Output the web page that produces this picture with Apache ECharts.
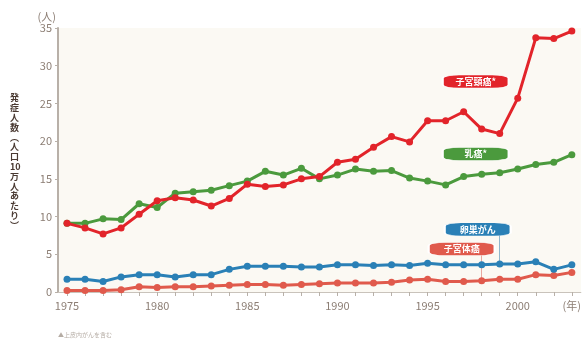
<!DOCTYPE html>
<html>
<head>
<meta charset="utf-8">
<script src="https://cdn.jsdelivr.net/npm/echarts@6/dist/echarts.min.js"></script>
<style>
  html, body { margin: 0; padding: 0; background: #fff; }
  #chart { width: 584px; height: 343px; }
</style>
</head>
<body>
<div id="chart"></div>
<script>
// 年（1975〜2003）
const years = [];
for (let y = 1975; y <= 2003; y++) years.push(String(y));

// 人口10万人あたりの発症人数
const cervix = [9.1, 8.5, 7.7, 8.5, 10.3, 12.1, 12.5, 12.2, 11.4, 12.4,
  14.3, 14.0, 14.2, 15.0, 15.3, 17.2, 17.6, 19.2, 20.6, 19.9,
  22.7, 22.7, 23.9, 21.6, 21.0, 25.7, 33.7, 33.6, 34.6];
const breast = [9.1, 9.1, 9.7, 9.6, 11.7, 11.2, 13.1, 13.3, 13.5, 14.1,
  14.7, 16.0, 15.5, 16.4, 15.0, 15.5, 16.3, 16.0, 16.1, 15.1,
  14.7, 14.2, 15.3, 15.6, 15.8, 16.3, 16.9, 17.2, 18.2];
const ovary = [1.7, 1.7, 1.4, 2.0, 2.3, 2.3, 2.0, 2.3, 2.3, 3.0,
  3.4, 3.4, 3.4, 3.3, 3.3, 3.6, 3.6, 3.5, 3.6, 3.5,
  3.8, 3.6, 3.6, 3.6, 3.7, 3.7, 4.0, 3.0, 3.6];
const uterus = [0.2, 0.2, 0.2, 0.3, 0.7, 0.6, 0.7, 0.7, 0.8, 0.9,
  1.0, 1.0, 0.9, 1.0, 1.1, 1.2, 1.2, 1.2, 1.3, 1.6,
  1.7, 1.4, 1.4, 1.5, 1.7, 1.7, 2.3, 2.2, 2.6];

const names = ['子宮頸癌*', '乳癌*', '卵巣がん', '子宮体癌'];
const colors = ['#e2242a', '#4b9a3d', '#2a80b6', '#e05a4c'];
// ラベルの位置（データ座標）
const labelAt = [['1998', 27.9], ['1998', 18.3], ['1998', 8.3], ['1997', 5.7]];
const labelShift = [-6, -6, -4, -2];
const xLabels = ['1975', '1980', '1985', '1990', '1995', '2000'];

const chart = echarts.init(document.getElementById('chart'));
const txt = '#8c7e74';

function makeSeries(i, data) {
  return {
    name: names[i],
    type: 'line',
    data: data,
    symbol: 'circle',
    symbolSize: 7,
    lineStyle: { width: 3, color: colors[i] },
    itemStyle: { color: colors[i] },
    z: 10 - i,
    markPoint: {
      symbol: 'roundRect',
      symbolSize: [66, 13],
      symbolOffset: [labelShift[i], 0],
      itemStyle: { color: colors[i], borderColor: '#fff', borderWidth: 1 },
      label: { show: true, color: '#fff', fontSize: 9, fontWeight: 'bold',
        fontFamily: 'Noto Sans CJK JP', formatter: names[i] },
      data: [{ coord: labelAt[i] }]
    }
  };
}

chart.setOption({
  animation: false,
  backgroundColor: '#fff',
  textStyle: { fontFamily: 'Noto Sans CJK JP' },
  grid: {
    left: 58, right: 0, top: 28, bottom: 51,
    show: true, backgroundColor: '#fbf9f3', borderWidth: 0
  },
  xAxis: {
    type: 'category',
    data: years,
    boundaryGap: true,
    axisLine: { lineStyle: { color: '#c9c3bb', width: 1 } },
    axisTick: { show: true, interval: 0, alignWithLabel: true, length: 4,
      lineStyle: { color: '#b8b0a8' } },
    axisLabel: {
      interval: 0, color: txt, fontSize: 11, margin: 8,
      formatter: v => v === '2003' ? '(年)' : (xLabels.includes(v) ? v : '')
    },
    splitLine: { show: false }
  },
  yAxis: {
    type: 'value',
    min: 0, max: 35, interval: 5,
    name: '(人)',
    nameLocation: 'end',
    nameGap: 3,
    nameTextStyle: { color: txt, fontSize: 11, align: 'right', padding: [0, 2, 0, 0] },
    axisLine: { show: true, lineStyle: { color: '#b8b0a8', width: 2 } },
    axisTick: { show: true, length: 3, lineStyle: { color: '#b8b0a8' } },
    axisLabel: { color: txt, fontSize: 11, margin: 6 },
    splitLine: { show: false }
  },
  graphic: [
    {
      type: 'text', left: 10, top: 93,
      style: {
        text: '発\n症\n人\n数\n︵\n人\n口\n10\n万\n人\nあ\nた\nり\n︶',
        fill: '#4a3a32', font: 'bold 9px "Noto Sans CJK JP"',
        lineHeight: 9.8, align: 'center'
      }
    },
    {
      type: 'text', left: 58, top: 332,
      style: { text: '▲上皮内がんを含む', fill: '#b5aca4', font: '6px "Noto Sans CJK JP"' }
    }
  ],
  series: [
    makeSeries(0, cervix),
    makeSeries(1, breast),
    Object.assign(makeSeries(2, ovary), {
      markLine: {
        symbol: 'none', silent: true,
        lineStyle: { color: '#8fb6cc', width: 1, type: 'solid' },
        label: { show: false },
        data: [[{ coord: ['1999', 7.6] }, { coord: ['1999', 3.8] }]]
      }
    }),
    Object.assign(makeSeries(3, uterus), {
      markLine: {
        symbol: 'none', silent: true,
        lineStyle: { color: '#e8a89e', width: 1, type: 'solid' },
        label: { show: false },
        data: [[{ coord: ['1998', 4.9] }, { coord: ['1998', 1.6] }]]
      }
    })
  ]
});
</script>
</body>
</html>
